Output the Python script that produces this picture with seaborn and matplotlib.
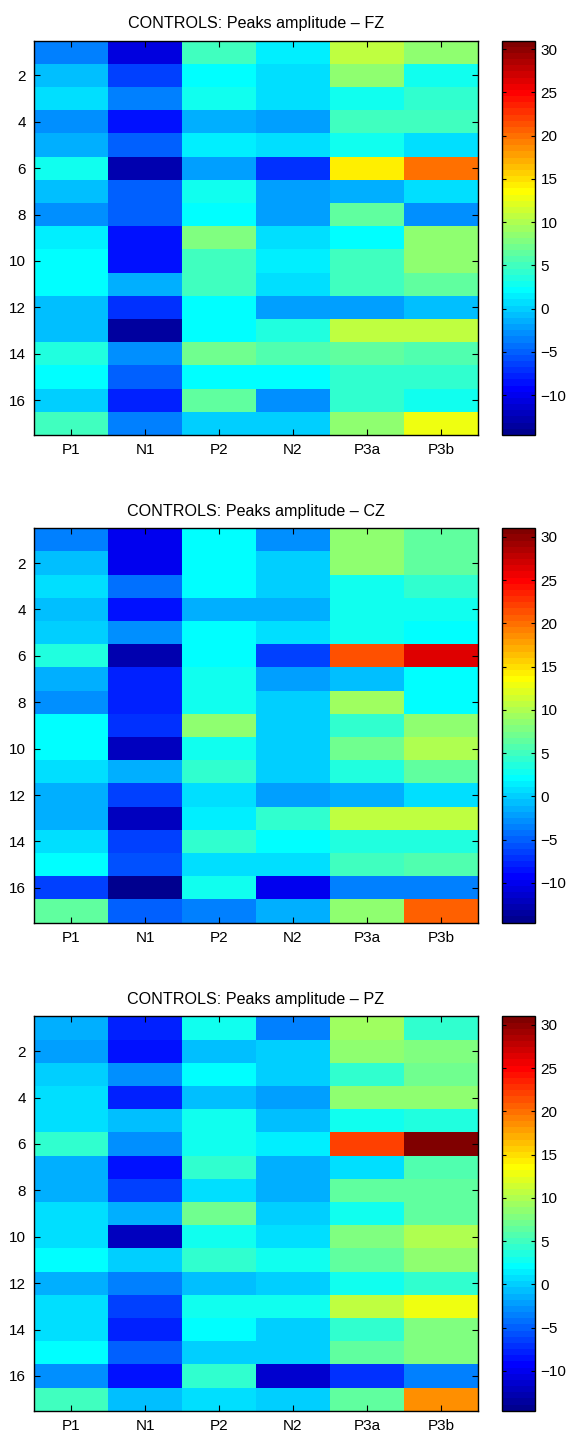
import numpy as np
import pandas as pd
import matplotlib
matplotlib.use('Agg')
import matplotlib.pyplot as plt
import seaborn as sns
from matplotlib.colors import ListedColormap

plt.rcParams['font.family'] = ['Liberation Sans', 'DejaVu Sans']

components = ['P1', 'N1', 'P2', 'N2', 'P3a', 'P3b']
subjects = list(range(1, 18))
electrodes = ['FZ', 'CZ', 'PZ']

fz = [
    [-3.5, -11.0, 5.0, 1.5, 10.5, 8.5],
    [-0.8, -6.5, 1.8, 1.0, 8.3, 3.0],
    [0.8, -3.9, 3.2, 0.8, 3.2, 4.0],
    [-2.6, -8.4, -1.2, -2.1, 5.2, 5.2],
    [-1.2, -5.2, 1.5, 0.8, 2.9, 0.5],
    [2.6, -12.5, -2.1, -7.0, 14.5, 19.7],
    [-0.5, -4.8, 3.2, -2.1, -1.2, 0.5],
    [-3.0, -5.2, 2.3, -2.1, 6.2, -2.6],
    [1.5, -8.4, 7.5, 0.5, 2.3, 8.3],
    [2.1, -8.4, 5.2, 1.5, 5.2, 8.3],
    [2.1, -1.2, 5.2, 0.5, 5.2, 6.6],
    [-0.8, -6.8, 1.9, -1.9, -1.9, -0.5],
    [-0.5, -13.5, 1.8, 3.8, 10.5, 10.5],
    [3.5, -2.6, 7.0, 5.6, 6.6, 5.6],
    [2.4, -4.8, 1.8, 1.8, 4.1, 4.6],
    [-0.3, -7.5, 6.6, -3.0, 4.1, 3.2],
    [5.2, -3.4, -0.3, 0.1, 8.8, 12.9],
]

cz = [
    [-3.2, -10.3, 1.8, -3.0, 8.8, 6.2],
    [-1.0, -10.0, 1.8, 0.1, 8.3, 6.2],
    [0.8, -4.3, 1.8, -0.3, 3.2, 4.1],
    [-1.0, -8.6, -1.2, -1.2, 3.2, 3.2],
    [-0.3, -3.0, 2.4, 0.5, 3.2, 2.1],
    [3.6, -13.0, 2.4, -6.6, 21.7, 26.5],
    [-1.2, -7.9, 2.6, -2.1, -1.0, 2.1],
    [-2.6, -7.5, 3.2, 0.3, 9.3, 2.0],
    [1.8, -7.0, 8.8, 0.3, 4.6, 8.8],
    [1.8, -11.8, 3.2, 0.3, 7.2, 10.3],
    [0.8, -1.6, 4.1, 0.3, 3.6, 6.2],
    [-1.2, -6.1, 0.8, -2.1, -1.2, 0.8],
    [-1.2, -11.8, 1.5, 4.1, 10.5, 10.5],
    [0.5, -6.1, 4.1, 2.0, 3.6, 3.6],
    [1.8, -5.6, 0.8, 1.0, 5.2, 5.6],
    [-6.6, -14.6, 2.6, -9.8, -3.4, -3.4],
    [6.6, -4.8, -3.4, -1.6, 8.5, 21.0],
]

pz = [
    [-1.4, -7.5, 3.2, -3.2, 9.3, 4.6],
    [-2.1, -8.2, -0.8, -0.3, 8.3, 8.0],
    [-0.3, -2.6, 1.8, 0.1, 4.1, 7.0],
    [1.0, -7.9, -0.5, -1.9, 8.8, 8.8],
    [0.8, -1.0, 3.2, -0.8, 3.2, 3.6],
    [4.1, -2.6, 3.2, 1.2, 22.4, 31.0],
    [-1.6, -8.2, 4.6, -1.4, 1.0, 5.6],
    [-1.6, -6.6, 0.8, -1.6, 6.2, 6.2],
    [0.8, -1.2, 7.2, 0.1, 3.2, 6.2],
    [0.5, -12.0, 3.2, 0.5, 7.6, 9.8],
    [1.8, -0.3, 4.1, 3.2, 6.2, 8.8],
    [-1.4, -3.2, -0.8, 0.1, 2.6, 4.6],
    [0.5, -6.1, 2.6, 3.2, 10.5, 12.5],
    [0.5, -7.5, 2.0, -0.3, 4.6, 7.6],
    [1.8, -5.2, 0.3, -0.3, 6.2, 7.6],
    [-3.0, -8.6, 4.1, -11.2, -7.0, -3.4],
    [5.2, -0.5, 1.0, -0.1, 6.6, 18.3],
]


def matlab_jet(n=64):
    # MATLAB's jet(n), which is a bit different from matplotlib's
    m = n // 4
    u = np.concatenate([np.arange(1, m + 1) / m, np.ones(m - 1), np.arange(m, 0, -1) / m])
    g = int(np.ceil(m / 2)) - (n % 4 == 1) + np.arange(1, len(u) + 1)
    r = g + m
    b = g - m
    J = np.zeros((n, 3))
    for col, idx in enumerate([r, g, b]):
        ok = (idx >= 1) & (idx <= n)
        J[idx[ok] - 1, col] = u[ok]
    return ListedColormap(J)


jet = matlab_jet(64)
all_vals = np.array([fz, cz, pz])
vmin, vmax = all_vals.min(), all_vals.max()

fig = plt.figure(figsize=(5.71, 14.34), dpi=100)
bottoms = [0.6967, 0.3566, 0.01625]

for vals, elec, bot in zip([fz, cz, pz], electrodes, bottoms):
    ax = fig.add_axes([0.0601, bot, 0.7765, 0.275])
    cax = fig.add_axes([0.8797, bot, 0.0573, 0.275])
    df = pd.DataFrame(vals, index=subjects, columns=components)
    sns.heatmap(df, ax=ax, cbar_ax=cax, cmap=jet, vmin=vmin, vmax=vmax,
                xticklabels=components, yticklabels=False)

    ax.set_yticks(np.arange(1.5, 16, 2))
    ax.set_yticklabels([str(s) for s in subjects[1::2]], rotation=0)
    ax.set_xticklabels(components, rotation=0)
    ax.set_xlabel('')
    ax.set_ylabel('')
    ax.set_title('CONTROLS: Peaks amplitude \u2013 ' + elec, fontsize=11.6, pad=9)
    for s in ax.spines.values():
        s.set_visible(True)
        s.set_linewidth(1.0)
        s.set_color('black')
    ax.tick_params(direction='in', length=4, width=0.8, top=True, right=True,
                   labelsize=11, pad=6)

    cbar = ax.collections[0].colorbar
    cbar.set_ticks(list(range(-10, 31, 5)))
    cbar.outline.set_visible(True)
    cbar.outline.set_linewidth(1.0)
    cbar.outline.set_edgecolor('black')
    cax.yaxis.set_ticks_position('both')
    cax.tick_params(direction='in', length=3, width=0.8, labelsize=11,
                    labelleft=False, labelright=True, pad=4)

fig.savefig('out.png', dpi=100)
